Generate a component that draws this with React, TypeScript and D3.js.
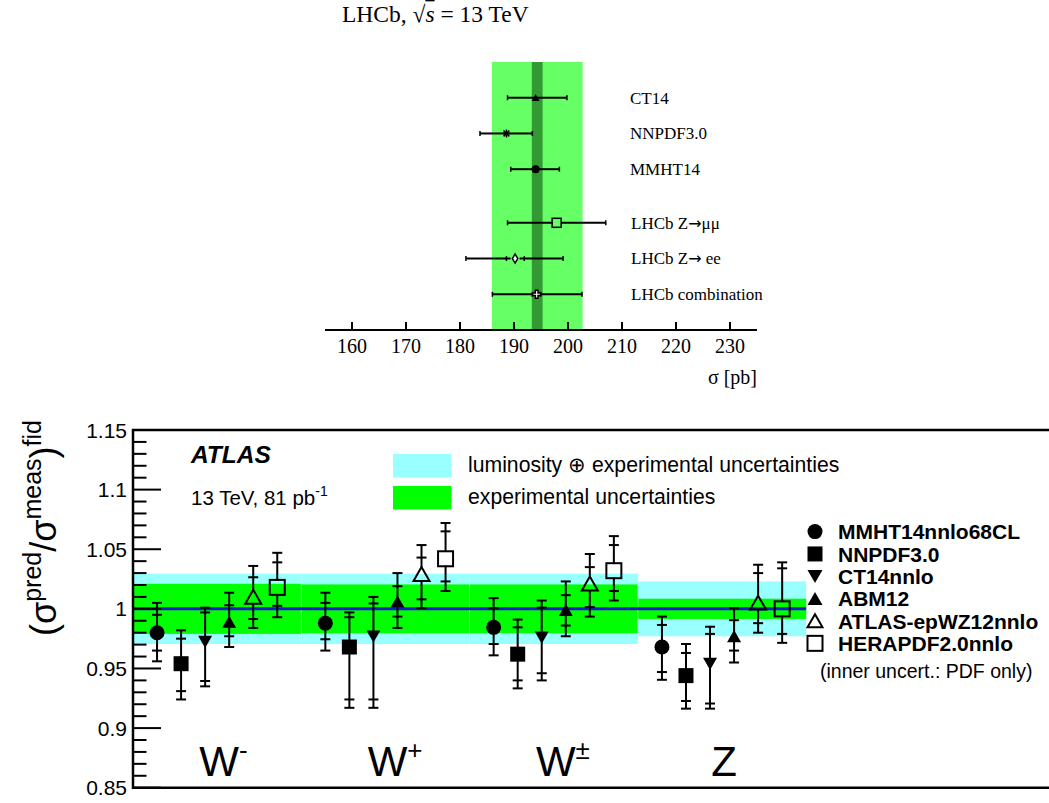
import React from 'react';
import * as d3 from 'd3';

const SANS = "'Liberation Sans', Arial, Helvetica, sans-serif";
const SERIF = "'Liberation Serif', 'Times New Roman', Times, serif";

// ---------- top panel (LHCb) ----------
const lhcbLabelHead = ['CT14', 'NNPDF3.0', 'MMHT14', 'LHCb Z', 'LHCb Z', 'LHCb combination'];
const lhcbLabelTail = ['', '', '', '\u03bc\u03bc', ' ee', ''];
const lhcbValues = [194.0, 188.6, 194.0, 197.9, 190.2, 194.2];
const lhcbLow = [188.8, 183.7, 189.4, 188.8, 181.1, 186.0];
const lhcbHigh = [199.8, 193.4, 198.4, 207.0, 199.1, 202.6];
const lhcbInnerLow: (number | null)[] = [null, null, null, null, 188.6, 193.4];
const lhcbInnerHigh: (number | null)[] = [null, null, null, null, 191.9, 194.9];
const lhcbMarkers = ['triangle', 'star', 'circle', 'openSquare', 'openDiamond', 'openCross'];
const lhcbBand = [185.9, 202.7];
const lhcbInnerBand = [193.3, 195.3];
const lhcbTicks = [160, 170, 180, 190, 200, 210, 220, 230];

// ---------- bottom panel (ATLAS) ----------
const processes = ['W', 'W', 'W', 'Z'];
const processSup = ['-', '+', '\u00b1', ''];
const lumiExpUnc = [0.0295, 0.0295, 0.0295, 0.023];
const expUnc = [0.021, 0.0205, 0.0205, 0.0085];
const yTickLabels = ['0.85', '0.9', '0.95', '1', '1.05', '1.1', '1.15'];
const pdfNames = ['MMHT14nnlo68CL', 'NNPDF3.0', 'CT14nnlo', 'ABM12', 'ATLAS-epWZ12nnlo', 'HERAPDF2.0nnlo'];
const pdfMarkers = ['circle', 'square', 'triangleDown', 'triangle', 'openTriangle', 'openSquare'];
// per process (W-, W+, W±, Z): [central, pdfLow, pdfHigh, totalLow, totalHigh]
const MMHT14 = [[0.980, 0.965, 0.995, 0.956, 1.005], [0.988, 0.9745, 1.005, 0.965, 1.0135], [0.9845, 0.9705, 1.0005, 0.961, 1.009], [0.968, 0.947, 0.9865, 0.9405, 0.9935]];
const NNPDF30 = [[0.954, 0.931, 0.975, 0.924, 0.982], [0.968, 0.924, 0.993, 0.917, 0.997], [0.962, 0.940, 0.9845, 0.9333, 0.991], [0.944, 0.9227, 0.963, 0.9163, 0.9705]];
const CT14 = [[0.9725, 0.9395, 0.997, 0.935, 1.001], [0.977, 0.924, 1.0045, 0.917, 1.010], [0.976, 0.946, 1.001, 0.940, 1.007], [0.954, 0.9206, 0.979, 0.9163, 0.985]];
const ABM12 = [[0.989, 0.977, 1.003, 0.968, 1.0135], [1.006, 0.9935, 1.019, 0.984, 1.030], [0.999, 0.986, 1.0115, 0.977, 1.023], [0.977, 0.965, 0.9905, 0.955, 1.0005]];
const ATLASepWZ12 = [[1.010, 0.9915, 1.0265, 0.984, 1.036], [1.029, 1.008, 1.043, 1.0005, 1.0535], [1.021, 1.0015, 1.035, 0.9935, 1.046], [1.005, 0.988, 1.030, 0.980, 1.037]];
const HERAPDF20 = [[1.018, 1.0025, 1.039, 0.993, 1.047], [1.042, 1.023, 1.065, 1.015, 1.072], [1.032, 1.015, 1.0535, 1.007, 1.061], [1.000, 0.979, 1.034, 0.9715, 1.039]];
const pdfData = [MMHT14, NNPDF30, CT14, ABM12, ATLASepWZ12, HERAPDF20];

function Marker({ type, x, y, s, stroke = '#000', sw = 1.6 }: { type: string; x: number; y: number; s: number; stroke?: string; sw?: number }) {
  const h = s / 2;
  switch (type) {
    case 'circle':
      return <circle cx={x} cy={y} r={h} fill="#000" />;
    case 'square':
      return <rect x={x - h} y={y - h} width={s} height={s} fill="#000" />;
    case 'openSquare':
      return <rect x={x - h} y={y - h} width={s} height={s} fill="none" stroke={stroke} strokeWidth={sw} />;
    case 'triangle':
      return <path d={`M${x},${y - 0.45 * s}L${x + h},${y + 0.42 * s}L${x - h},${y + 0.42 * s}Z`} fill="#000" />;
    case 'openTriangle':
      return <path d={`M${x},${y - 0.45 * s}L${x + h},${y + 0.42 * s}L${x - h},${y + 0.42 * s}Z`} fill="none" stroke={stroke} strokeWidth={sw} />;
    case 'triangleDown':
      return <path d={`M${x},${y + 0.45 * s}L${x + h},${y - 0.42 * s}L${x - h},${y - 0.42 * s}Z`} fill="#000" />;
    case 'openDiamond':
      return <path d={`M${x},${y - h}L${x + 0.3 * s},${y}L${x},${y + h}L${x - 0.3 * s},${y}Z`} fill="#fff" stroke={stroke} strokeWidth={sw} />;
    case 'openCross': {
      const a = s / 6;
      return <path d={`M${x - a},${y - h}H${x + a}V${y - a}H${x + h}V${y + a}H${x + a}V${y + h}H${x - a}V${y + a}H${x - h}V${y - a}H${x - a}Z`} fill="#fff" stroke={stroke} strokeWidth={sw} />;
    }
    case 'star': {
      const d = h * 0.72;
      return (
        <g stroke={stroke} strokeWidth={sw}>
          <line x1={x - h} y1={y} x2={x + h} y2={y} />
          <line x1={x} y1={y - h} x2={x} y2={y + h} />
          <line x1={x - d} y1={y - d} x2={x + d} y2={y + d} />
          <line x1={x - d} y1={y + d} x2={x + d} y2={y - d} />
        </g>
      );
    }
    default:
      return null;
  }
}

const isOpen = (t: string) => t.startsWith('open');
const letterWidth: Record<string, number> = { W: 0.944, Z: 0.611 };

export default function App() {
  // ---------- scales ----------
  const xT = d3.scaleLinear().domain([155, 235]).range([325, 757]);
  const yT = d3.scaleLinear().domain([-1, 6.5]).range([62, 330]);
  const rowOf = (i: number) => (i < 3 ? i : i + 0.5);

  const xB = d3.scaleLinear().domain([0, 1]).range([133, 301.3]);
  const yB = d3.scaleLinear().domain([0.85, 1.15]).range([787.7, 430]);
  const majorTicks = yTickLabels.map((t) => parseFloat(t));
  const minorTicks = d3.range(85, 116).map((v) => v / 100).filter((v) => !majorTicks.some((m) => Math.abs(m - v) < 1e-6));

  const capW = 5;
  const procFont = 42;
  return (
    <svg width={1049} height={803} style={{ position: 'absolute', left: 0, top: 0, background: '#fff' }}>
      <rect x={0} y={0} width={1049} height={803} fill="#fff" />
      {/* ================= TOP PANEL ================= */}
      <text x={342} y={22} fontFamily={SERIF} fontSize={23.5}>
        LHCb,{' '}
        <tspan>{'\u221a'}</tspan>
        <tspan fontStyle="italic" style={{ textDecoration: 'overline' }}>s</tspan> = 13 TeV
      </text>
      <rect x={xT(lhcbBand[0])} y={yT(-1)} width={xT(lhcbBand[1]) - xT(lhcbBand[0])} height={yT(6.5) - yT(-1)} fill="#66ff66" />
      <rect x={xT(lhcbInnerBand[0])} y={yT(-1)} width={xT(lhcbInnerBand[1]) - xT(lhcbInnerBand[0])} height={yT(6.5) - yT(-1)} fill="#339933" />
      {lhcbLabelHead.map((lab, i) => {
        const y = yT(rowOf(i));
        const x0 = xT(lhcbLow[i]);
        const x1 = xT(lhcbHigh[i]);
        const xc = xT(lhcbValues[i]);
        const m = lhcbMarkers[i];
        const ms = m === 'openSquare' ? 9 : m === 'openDiamond' ? 9 : 8;
        const gap = isOpen(m) ? ms / 2 : 0;
        const il = lhcbInnerLow[i];
        const ih = lhcbInnerHigh[i];
        return (
          <g key={i}>
            <line x1={x0} x2={xc - gap} y1={y} y2={y} stroke="#000" strokeWidth={2} />
            <line x1={xc + gap} x2={x1} y1={y} y2={y} stroke="#000" strokeWidth={2} />
            <line x1={x0} x2={x0} y1={y - 2.5} y2={y + 2.5} stroke="#000" strokeWidth={1.5} />
            <line x1={x1} x2={x1} y1={y - 2.5} y2={y + 2.5} stroke="#000" strokeWidth={1.5} />
            {il !== null && <line x1={xT(il)} x2={xT(il)} y1={y - 2.5} y2={y + 2.5} stroke="#000" strokeWidth={1.5} />}
            {ih !== null && <line x1={xT(ih)} x2={xT(ih)} y1={y - 2.5} y2={y + 2.5} stroke="#000" strokeWidth={1.5} />}
            <Marker type={m} x={xc} y={y} s={ms} sw={1.5} />
            <text x={i < 3 ? 630 : 631} y={y} dy="0.35em" fontFamily={SERIF} fontSize={17}>
              {lab}
              {lhcbLabelTail[i] && (
                <>
                  <tspan fontFamily="'DejaVu Sans', sans-serif" fontSize={16}>{'\u2192'}</tspan>
                  <tspan>{lhcbLabelTail[i]}</tspan>
                </>
              )}
            </text>
          </g>
        );
      })}
      <line x1={325} x2={757} y1={330} y2={330} stroke="#000" strokeWidth={2} />
      {lhcbTicks.map((t) => (
        <g key={t}>
          <line x1={xT(t)} x2={xT(t)} y1={330} y2={322} stroke="#000" strokeWidth={2} />
          <text x={xT(t)} y={353} textAnchor="middle" fontFamily={SERIF} fontSize={20}>
            {t}
          </text>
        </g>
      ))}
      <text x={757} y={384} textAnchor="end" fontFamily={SERIF} fontSize={20}>
        {'\u03c3 [pb]'}
      </text>

      {/* ================= BOTTOM PANEL ================= */}
      {processes.map((p, i) => (
        <g key={'band' + i}>
          <rect x={xB(i)} y={yB(1 + lumiExpUnc[i])} width={xB(i + 1) - xB(i)} height={yB(1 - lumiExpUnc[i]) - yB(1 + lumiExpUnc[i])} fill="#99ffff" />
          <rect x={xB(i)} y={yB(1 + expUnc[i])} width={xB(i + 1) - xB(i)} height={yB(1 - expUnc[i]) - yB(1 + expUnc[i])} fill="#00ff00" />
          {i > 0 && <line x1={xB(i)} x2={xB(i)} y1={yB(1 + lumiExpUnc[i - 1])} y2={yB(1 - lumiExpUnc[i - 1])} stroke="#ccffcc" strokeWidth={0.8} opacity={0.7} />}
        </g>
      ))}
      <line x1={xB(0)} x2={xB(4)} y1={yB(1)} y2={yB(1)} stroke="#1a1acc" strokeWidth={3} />

      {pdfData.map((series, j) =>
        series.map((v, i) => {
          const x = xB(i + (j + 1) / 7);
          const [c, pl, ph, tl, th] = v;
          const m = pdfMarkers[j];
          const s = m === 'openTriangle' ? 16 : m === 'circle' ? 15 : m === 'square' || m === 'openSquare' ? 15 : 14;
          const gap = isOpen(m) ? s * 0.45 : 0;
          const yc = yB(c);
          return (
            <g key={j + '-' + i}>
              <line x1={x} x2={x} y1={yB(th)} y2={yc - gap} stroke="#000" strokeWidth={2} />
              <line x1={x} x2={x} y1={yc + gap} y2={yB(tl)} stroke="#000" strokeWidth={2} />
              {[pl, ph, tl, th].map((e, k) => (
                <line key={k} x1={x - capW} x2={x + capW} y1={yB(e)} y2={yB(e)} stroke="#000" strokeWidth={2} />
              ))}
              <Marker type={m} x={x} y={yc} s={s} sw={2} />
            </g>
          );
        })
      )}

      {/* frame */}
      <path d={`M1060,${yB(1.15)}H${xB(0)}V${yB(0.85)}H1060`} fill="none" stroke="#000" strokeWidth={2.5} />
      {majorTicks.map((t, k) => (
        <g key={'mj' + k}>
          <line x1={xB(0)} x2={xB(0) + 28} y1={yB(t)} y2={yB(t)} stroke="#000" strokeWidth={2} />
          <text x={127} y={yB(t)} dy="0.36em" textAnchor="end" fontFamily={SANS} fontSize={21}>
            {yTickLabels[k]}
          </text>
        </g>
      ))}
      {minorTicks.map((t, k) => (
        <line key={'mn' + k} x1={xB(0)} x2={xB(0) + 13.5} y1={yB(t)} y2={yB(t)} stroke="#000" strokeWidth={2} />
      ))}

      {/* y title */}
      <text transform="translate(56,528) rotate(-90)" textAnchor="middle" fontFamily={SANS} fontSize={36}>
        (σ<tspan fontSize={25} dy={-15}>pred</tspan>
        <tspan dy={15}>/σ</tspan>
        <tspan fontSize={25} dy={-15}>meas</tspan>
        <tspan dy={15}>)</tspan>
        <tspan fontSize={25} dy={-15}>fid</tspan>
      </text>

      {/* ATLAS labels */}
      <text x={191} y={463} fontFamily={SANS} fontSize={24.5} fontWeight="bold" fontStyle="italic">
        ATLAS
      </text>
      <text x={191} y={505} fontFamily={SANS} fontSize={20.5}>
        13 TeV, 81 pb<tspan fontSize={14} dy={-9}>-1</tspan>
      </text>

      {/* band legend */}
      <rect x={393} y={454} width={58.5} height={23.5} fill="#99ffff" />
      <rect x={393} y={486} width={58.5} height={23.5} fill="#00ff00" />
      <text x={468} y={472} fontFamily={SANS} fontSize={21.2}>
        luminosity {'\u2295'} experimental uncertainties
      </text>
      <text x={468} y={504} fontFamily={SANS} fontSize={21.2}>
        experimental uncertainties
      </text>

      {/* PDF legend */}
      {pdfNames.map((n, j) => {
        const y = 531.6 + j * 22.35;
        return (
          <g key={n}>
            <Marker type={pdfMarkers[j]} x={815} y={y} s={15} sw={2} />
            <text x={838} y={y} dy="0.36em" fontFamily={SANS} fontSize={21} fontWeight="bold">
              {n}
            </text>
          </g>
        );
      })}
      <text x={820} y={678} fontFamily={SANS} fontSize={19.5}>
        (inner uncert.: PDF only)
      </text>

      {/* process labels */}
      {processes.map((p, i) => {
        const cx = (xB(i) + xB(i + 1)) / 2;
        const start = cx + 2 - (letterWidth[p] * procFont) / 2;
        return (
          <text key={'p' + i} x={start} y={776} fontFamily={SANS} fontSize={procFont}>
            {p}
            {processSup[i] && (
              <tspan fontSize={26} dy={-17}>
                {processSup[i]}
              </tspan>
            )}
          </text>
        );
      })}
    </svg>
  );
}
